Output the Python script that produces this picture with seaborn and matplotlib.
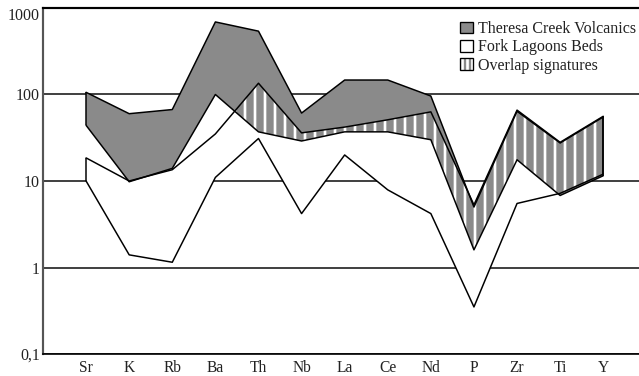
import matplotlib
matplotlib.use("Agg")
import matplotlib.pyplot as plt
from matplotlib.patches import Patch
from matplotlib.ticker import NullLocator
import seaborn as sns
import pandas as pd

# ── Data (normalised concentrations) ──────────────────────────────────────
elements = ["Sr", "K", "Rb", "Ba", "Th", "Nb", "La", "Ce", "Nd", "P", "Zr", "Ti", "Y"]
theresa_upper = [106, 60, 67, 690, 540, 61, 147, 147, 96, 5.0, 64, 27.5, 55]
theresa_lower = [44, 9.8, 14, 100, 37, 29, 37, 37, 30, 1.6, 17.6, 6.8, 11.5]
fork_upper = [18.5, 10, 13.5, 35, 135, 36, 42, 51, 63, 5.3, 66, 28, 56]
fork_lower = [10, 1.4, 1.15, 11, 31, 4.2, 20, 7.9, 4.2, 0.35, 5.5, 7.2, 12]
y_ticks = [0.1, 1, 10, 100, 1000]
y_labels = ["0,1", "1", "10", "100", "1000"]
legend_labels = ["Theresa Creek Volcanics", "Fork Lagoons Beds", "Overlap signatures"]

GRAY = "#8a8a8a"
TEXT = "#222222"
DPI = 120

sns.set_theme(style="white")
plt.rcParams["font.family"] = ["Liberation Serif", "DejaVu Serif"]
plt.rcParams["hatch.color"] = "white"
plt.rcParams["hatch.linewidth"] = 1.6

fig = plt.figure(figsize=(639 / DPI, 376 / DPI), dpi=DPI)
ax = fig.add_axes([43 / 639, 22 / 376, 596 / 639, 346 / 376])
ax.set_yscale("log")

x = list(range(len(elements)))

# band fills: volcanics, lagoon beds on top, then hatched overlap clipped to the beds
ax.fill_between(x, theresa_lower, theresa_upper, facecolor=GRAY, edgecolor="none", zorder=2)
fork_fill = ax.fill_between(x, fork_lower, fork_upper, facecolor="white", edgecolor="none", zorder=3)
overlap = ax.fill_between(x, theresa_lower, theresa_upper, facecolor=GRAY, edgecolor="white",
                          linewidth=0, hatch="||", zorder=4)
overlap.set_clip_path(fork_fill.get_paths()[0], ax.transData)

# outlines
lines = pd.DataFrame({
    "x": x * 4,
    "value": theresa_upper + theresa_lower + fork_upper + fork_lower,
    "series": (["tu"] * len(x) + ["tl"] * len(x) + ["fu"] * len(x) + ["fl"] * len(x)),
})
sns.lineplot(data=lines, x="x", y="value", hue="series", units="series", estimator=None,
             palette={"tu": "black", "tl": "black", "fu": "black", "fl": "black"},
             linewidth=0.9, legend=False, ax=ax, zorder=5)
ax.vlines([x[0], x[-1]], [theresa_lower[0], theresa_lower[-1]], [theresa_upper[0], theresa_upper[-1]],
          color="black", linewidth=0.9, zorder=5)
ax.vlines([x[0], x[-1]], [fork_lower[0], fork_lower[-1]], [fork_upper[0], fork_upper[-1]],
          color="black", linewidth=0.9, zorder=5)

# axes
ax.set_xlim(-1, 12.83)
ax.set_ylim(0.1, 1000)
ax.set_xticks(x)
ax.set_xticklabels(elements)
ax.set_yticks(y_ticks)
ax.set_yticklabels(y_labels)
ax.yaxis.set_minor_locator(NullLocator())
ax.get_yticklabels()[-1].set_va("top")
ax.set_xlabel("")
ax.set_ylabel("")

ax.set_axisbelow(True)
ax.yaxis.grid(True, color="#444444", linewidth=1.2)
ax.xaxis.grid(False)

ax.tick_params(axis="x", direction="inout", length=3.6, width=0.6, color="black",
               pad=1.5, labelsize=9.3, labelcolor=TEXT)
ax.tick_params(axis="y", length=0, pad=1.8, labelsize=9.5, labelcolor=TEXT)

ax.spines["right"].set_visible(False)
ax.spines["top"].set_color("black")
ax.spines["top"].set_linewidth(1.3)
ax.spines["left"].set_color("#555555")
ax.spines["left"].set_linewidth(1.3)
ax.spines["bottom"].set_color("black")
ax.spines["bottom"].set_linewidth(1.0)

# legend
handles = [
    Patch(facecolor=GRAY, edgecolor="black", linewidth=0.8),
    Patch(facecolor="white", edgecolor="black", linewidth=0.8),
    (Patch(facecolor=GRAY, edgecolor="white", linewidth=0, hatch="||||"),
     Patch(facecolor="none", edgecolor="black", linewidth=0.8)),
]
leg = ax.legend(handles, legend_labels, loc="upper left",
                bbox_to_anchor=(460 / 639, 1 - 21 / 376), bbox_transform=fig.transFigure,
                frameon=False, fontsize=9.6, handlelength=0.8, handleheight=0.75,
                handletextpad=0.3, labelspacing=0.15, borderpad=0, borderaxespad=0)
for t in leg.get_texts():
    t.set_color(TEXT)
leg.set_zorder(10)

fig.savefig("out.png", dpi=DPI)
